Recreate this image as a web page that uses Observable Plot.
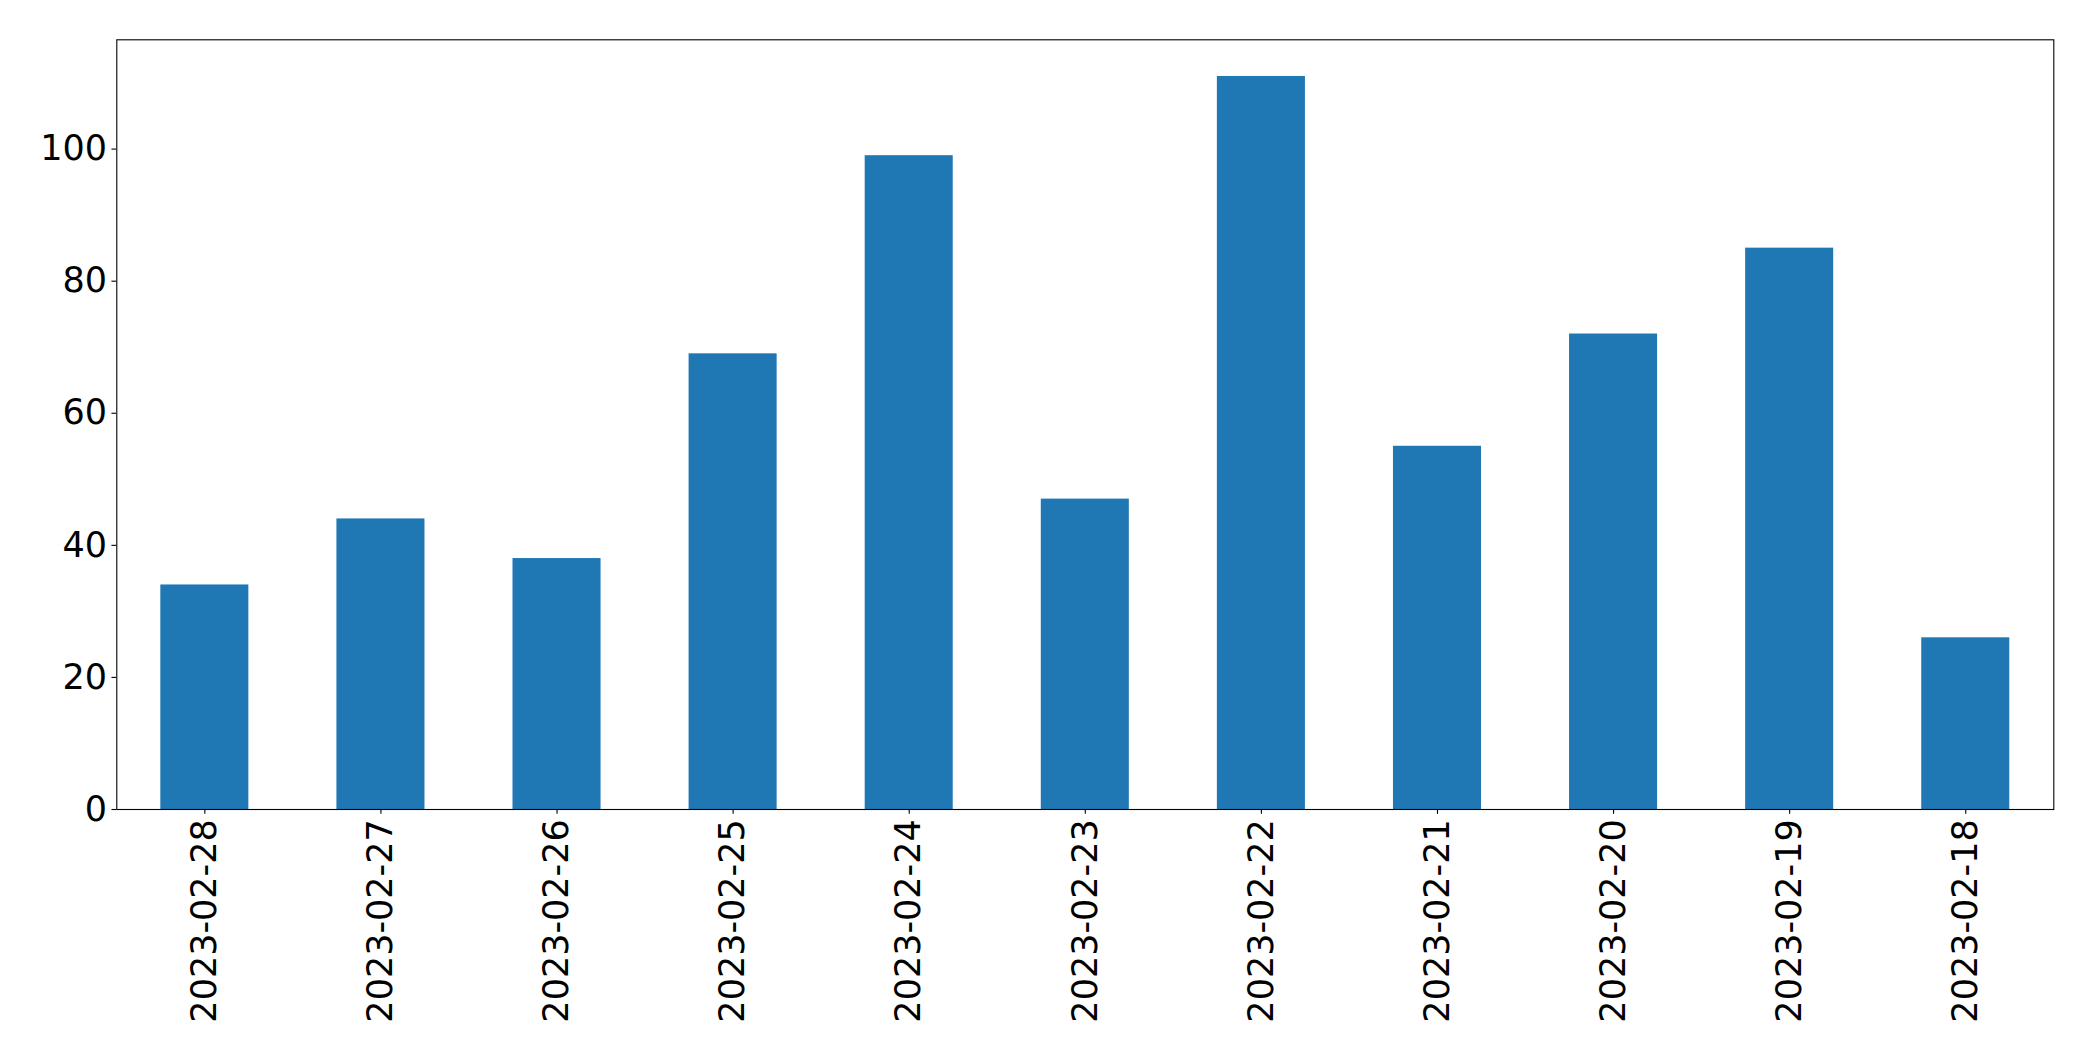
<!DOCTYPE html>
<html><head><meta charset="utf-8">
<script src="https://cdn.jsdelivr.net/npm/d3@7"></script>
<script src="https://cdn.jsdelivr.net/npm/@observablehq/plot@0.6"></script>
<style>html,body{margin:0;padding:0;background:#fff;overflow:hidden;}</style>
</head><body><div id="chart"></div>
<script>
const dates = ["2023-02-28","2023-02-27","2023-02-26","2023-02-25","2023-02-24","2023-02-23","2023-02-22","2023-02-21","2023-02-20","2023-02-19","2023-02-18"];
const counts = [34, 44, 38, 69, 99, 47, 111, 55, 72, 85, 26];
const yTicks = [0, 20, 40, 60, 80, 100];

const data = dates.map((d, i) => ({date: d, count: counts[i]}));

const plot = Plot.plot({
  width: 2093, height: 1061,
  marginLeft: 116.3, marginRight: 39.7, marginTop: 39.3, marginBottom: 252,
  style: {fontFamily: "DejaVu Sans", fontSize: "35px", color: "#000", background: "#fff"},
  x: {type: "band", domain: dates, paddingInner: 0.5, paddingOuter: 0.25, round: false, label: null},
  y: {domain: [0, 116.55], label: null},
  marks: [
    Plot.barY(data, {x: "date", y: "count", fill: "#1f77b4"}),
    Plot.axisY({ticks: yTicks, tickSize: 4.86, tickPadding: 4.86, label: null, stroke: "#000", strokeWidth: 1.1, fill: "#000"}),
    Plot.axisX({tickRotate: -90, tickSize: 4.86, tickPadding: 4.86, label: null, stroke: "#000", strokeWidth: 1.1, fill: "#000"}),
    Plot.frame({stroke: "#000", strokeWidth: 1.1})
  ]
});
document.getElementById("chart").appendChild(plot);
</script>
</body></html>
